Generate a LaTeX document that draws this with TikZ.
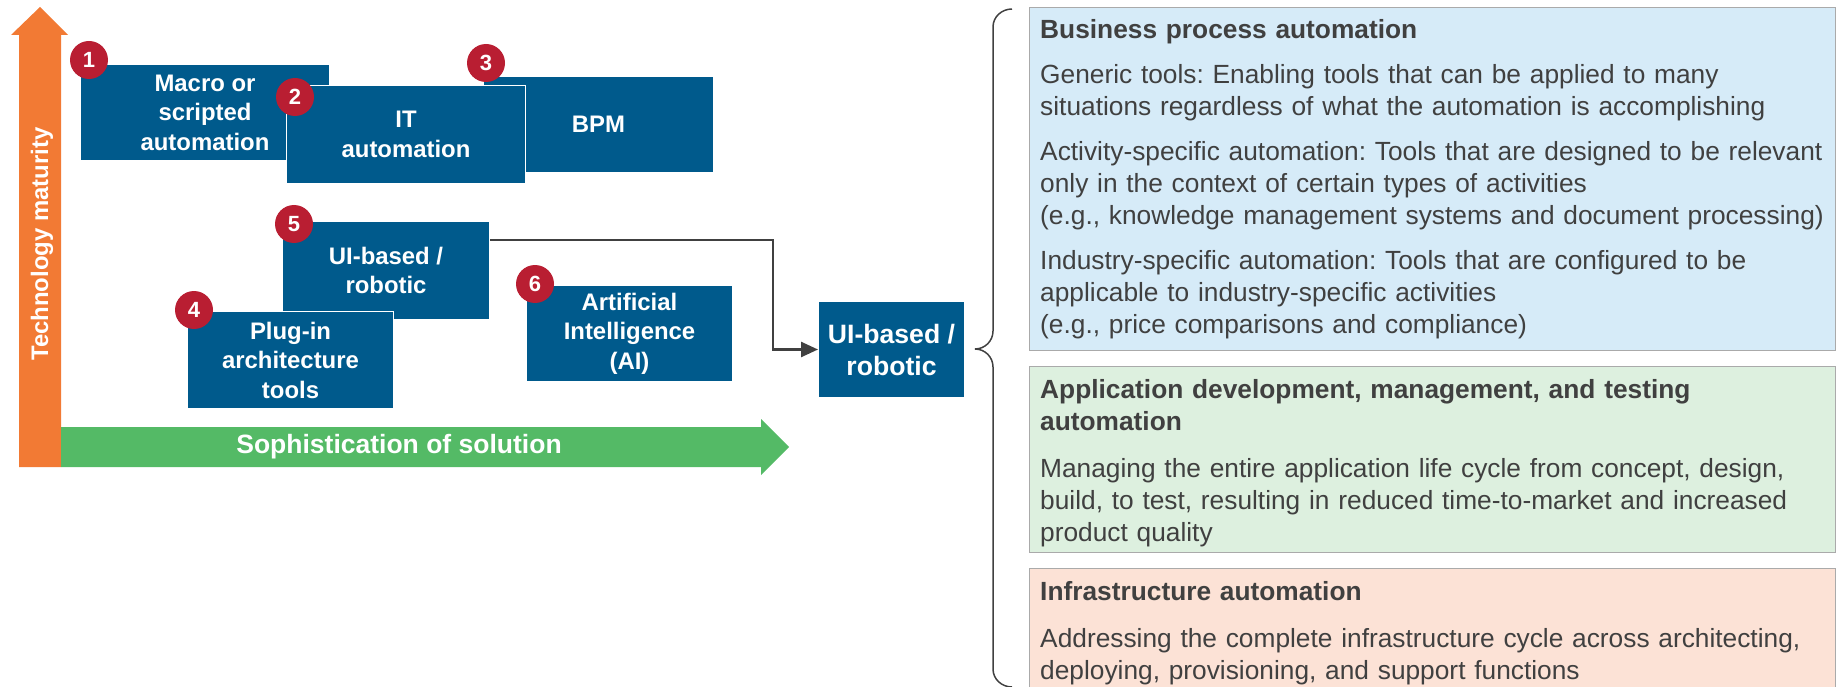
\documentclass[tikz,border=0pt]{standalone}
\usepackage{fontspec}
\setmainfont{Liberation Sans}
\usepackage{xcolor}
\usepackage{tikz}
\usetikzlibrary{positioning,arrows.meta}

\definecolor{boxblue}{RGB}{0,90,140}
\definecolor{badgered}{RGB}{185,30,50}
\definecolor{matorange}{RGB}{242,122,52}
\definecolor{sophgreen}{RGB}{84,186,102}
\definecolor{panelblue}{RGB}{214,235,248}
\definecolor{panelgreen}{RGB}{221,240,223}
\definecolor{panelpink}{RGB}{252,226,214}
\definecolor{panelline}{RGB}{170,170,170}
\definecolor{txtgray}{RGB}{64,64,64}
\frenchspacing

\begin{document}
\begin{tikzpicture}[x=1pt, y=-1pt, node distance=15pt,
  techbox/.style={fill=boxblue, draw=white, line width=1pt, text=white, inner sep=0pt,
    anchor=north west, align=center, font=\bfseries\fontsize{23.9}{29.5}\selectfont},
  badge/.style={circle, fill=badgered, text=white, inner sep=0pt, minimum size=38pt,
    font=\bfseries\fontsize{22}{22}\selectfont},
  panel/.style={draw=panelline, line width=1pt, minimum width=806pt, inner sep=0pt},
  paneltext/.style={anchor=base west, align=left, text width=795pt, text=txtgray, inner sep=0pt,
    font=\fontsize{26.3}{32}\selectfont},
  connector/.style={draw=txtgray, line width=2.5pt, -{Triangle[length=17pt,width=15pt]}}]
\useasboundingbox (0,0) rectangle (1839,687);

% axes
\fill[matorange] (19,467) -- (19,35) -- (11,35) -- (40,7) -- (68,35) -- (61,35) -- (61,467) -- cycle;
\fill[sophgreen] (61,427) -- (761,427) -- (761,419) -- (789,447) -- (761,475) -- (761,467) -- (61,467) -- cycle;
\node[rotate=90, text=white, font=\bfseries\fontsize{23.9}{24}\selectfont] (maturity) at (42,244) {Technology maturity};
\node[text=white, font=\bfseries\fontsize{26.5}{27}\selectfont] (sophistication) at (399,447) {Sophistication of solution};

% tool boxes
\node[techbox, minimum width=249pt, minimum height=96pt] (macro) at (80,64) {Macro or\\scripted\\automation};
\node[techbox, minimum width=230pt, minimum height=96pt] (bpm) at (483,76) {BPM};
\node[techbox, minimum width=239pt, minimum height=98pt] (itauto) at (286,85) {IT\\automation};
\node[techbox, minimum width=207pt, minimum height=98pt] (robotic) at (282,221) {UI-based /\\robotic};
\node[techbox, minimum width=206pt, minimum height=97pt] (plugin) at (187,311) {Plug-in\\architecture\\tools};
\node[techbox, minimum width=206pt, minimum height=96pt] (ai) at (526,285) {Artificial\\Intelligence\\(AI)};

\node[badge] (n1) at ([shift={(9,-4)}]macro.north west) {1};
\node[badge] (n2) at ([shift={(9,12)}]itauto.north west) {2};
\node[badge] (n3) at ([shift={(3,-13)}]bpm.north west) {3};
\node[badge] (n4) at ([shift={(7,-1)}]plugin.north west) {4};
\node[badge] (n5) at ([shift={(12,3)}]robotic.north west) {5};
\node[badge] (n6) at ([shift={(9,-1)}]ai.north west) {6};

\node[techbox, minimum width=146pt, minimum height=96pt,
  font=\bfseries\fontsize{26.6}{32}\selectfont] (uib) at (818,301) {UI-based /\\robotic};

\coordinate (tap) at ([yshift=-19pt]robotic.north east);
\coordinate (elbow) at (773,240);
\draw[connector] (tap) -- (elbow) |- (uib.west);

% brace
\draw[txtgray, line width=1.5pt] (1012,9) to[out=180,in=90] (993,27) -- (993,331)
  to[out=-90,in=0] (975,349) to[out=0,in=90] (993,367) -- (993,669) to[out=-90,in=180] (1012,687);

% panels
\node[panel, fill=panelblue, minimum height=343pt, anchor=north west] (bpa) at (1029,7) {};
\node[panel, fill=panelgreen, minimum height=186pt, below=of bpa] (adm) {};
\node[panel, fill=panelpink, minimum height=134pt, below=of adm] (infra) {};

\node[paneltext] (bpatext) at ([shift={(11,32)}]bpa.north west) {\textbf{Business process automation}\\[13pt]
  Generic tools: Enabling tools that can be applied to many\\
  situations regardless of what the automation is accomplishing\\[13pt]
  Activity-specific automation: Tools that are designed to be relevant\\
  only in the context of certain types of activities\\
  (e.g., knowledge management systems and document processing)\\[13pt]
  Industry-specific automation: Tools that are configured to be\\
  applicable to industry-specific activities\\
  (e.g., price comparisons and compliance)};
\node[paneltext] (admtext) at ([shift={(11,32)}]adm.north west) {\textbf{Application development, management, and testing}\\
  \textbf{automation}\\[15pt]
  Managing the entire application life cycle from concept, design,\\
  build, to test, resulting in reduced time-to-market and increased\\
  product quality};
\node[paneltext] (infratext) at ([shift={(11,32)}]infra.north west) {\textbf{Infrastructure automation}\\[15pt]
  Addressing the complete infrastructure cycle across architecting,\\
  deploying, provisioning, and support functions};
\end{tikzpicture}
\end{document}
